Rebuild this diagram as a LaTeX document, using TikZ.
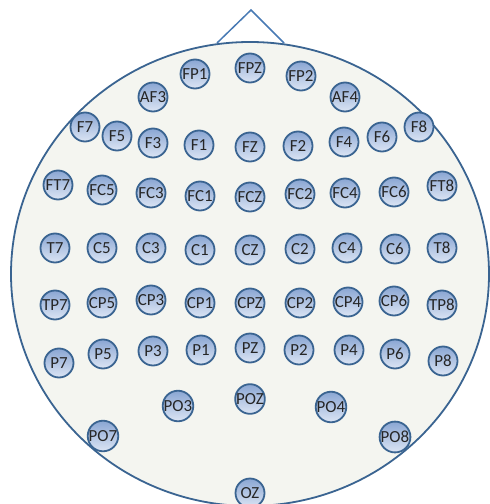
\documentclass[tikz,border=0pt]{standalone}
\usepackage{fontspec}
\setmainfont{Carlito}
\definecolor{headline}{RGB}{58,100,145}
\definecolor{headfill}{RGB}{244,245,240}
\definecolor{noseline}{RGB}{72,122,180}
\definecolor{elecTop}{RGB}{138,166,211}
\definecolor{elecBot}{RGB}{220,229,244}
\definecolor{labeltext}{RGB}{38,38,38}
\begin{document}
\begin{tikzpicture}[x=1bp, y=-1bp, electrode/.style={circle, draw=headline, line width=1.8bp, top color=elecTop, bottom color=elecBot, minimum size=29bp, inner sep=0pt, text=labeltext, font=\fontsize{17}{17}\selectfont}]
\useasboundingbox (0,0) rectangle (490,504);
% head and nose
\draw[noseline, line width=1.5bp] (217,43) -- (251,10) -- (284,43);
\draw[headline, fill=headfill, line width=1.8bp] (250,274) ellipse [x radius=239, y radius=232];
% frontal
\node[electrode] (FP1) at (195,74) {FP1};
\node[electrode] (FPZ) at (250,68) {FPZ};
\node[electrode] (FP2) at (301,76) {FP2};
\node[electrode] (AF3) at (153,97) {AF3};
\node[electrode] (AF4) at (345,97) {AF4};
\node[electrode] (F7) at (85,127) {F7};
\node[electrode] (F5) at (117,136) {F5};
\node[electrode] (F3) at (153,143) {F3};
\node[electrode] (F1) at (199,145) {F1};
\node[electrode] (FZ) at (250,147) {FZ};
\node[electrode] (F2) at (298,146) {F2};
\node[electrode] (F4) at (344,142) {F4};
\node[electrode] (F6) at (382,137) {F6};
\node[electrode] (F8) at (419,127) {F8};
% fronto-central
\node[electrode] (FT7) at (58,185) {FT7};
\node[electrode] (FC5) at (102,190) {FC5};
\node[electrode] (FC3) at (151,193) {FC3};
\node[electrode] (FC1) at (200,196) {FC1};
\node[electrode] (FCZ) at (250,197) {FCZ};
\node[electrode] (FC2) at (300,194) {FC2};
\node[electrode] (FC4) at (345,193) {FC4};
\node[electrode] (FC6) at (394,192) {FC6};
\node[electrode] (FT8) at (442,186) {FT8};
% central
\node[electrode] (T7) at (55,248) {T7};
\node[electrode] (C5) at (102,248) {C5};
\node[electrode] (C3) at (151,248) {C3};
\node[electrode] (C1) at (200,250) {C1};
\node[electrode] (CZ) at (250,250) {CZ};
\node[electrode] (C2) at (300,249) {C2};
\node[electrode] (C4) at (347,248) {C4};
\node[electrode] (C6) at (395,249) {C6};
\node[electrode] (T8) at (442,248) {T8};
% centro-parietal
\node[electrode] (TP7) at (55,305) {TP7};
\node[electrode] (CP5) at (102,303) {CP5};
\node[electrode] (CP3) at (151,300) {CP3};
\node[electrode] (CP1) at (200,303) {CP1};
\node[electrode] (CPZ) at (250,303) {CPZ};
\node[electrode] (CP2) at (300,303) {CP2};
\node[electrode] (CP4) at (348,302) {CP4};
\node[electrode] (CP6) at (394,301) {CP6};
\node[electrode] (TP8) at (442,305) {TP8};
% parietal
\node[electrode] (P7) at (59,363) {P7};
\node[electrode] (P5) at (103,354) {P5};
\node[electrode] (P3) at (153,351) {P3};
\node[electrode] (P1) at (201,350) {P1};
\node[electrode] (PZ) at (250,348) {PZ};
\node[electrode] (P2) at (299,350) {P2};
\node[electrode] (P4) at (349,350) {P4};
\node[electrode] (P6) at (395,354) {P6};
\node[electrode] (P8) at (443,361) {P8};
% occipital
\node[electrode] (PO3) at (178,406) {PO3};
\node[electrode] (POZ) at (250,399) {POZ};
\node[electrode] (PO4) at (331,407) {PO4};
\node[electrode] (PO7) at (103,436) {PO7};
\node[electrode] (PO8) at (395,437) {PO8};
\node[electrode] (OZ) at (250,493) {OZ};
\end{tikzpicture}
\end{document}
